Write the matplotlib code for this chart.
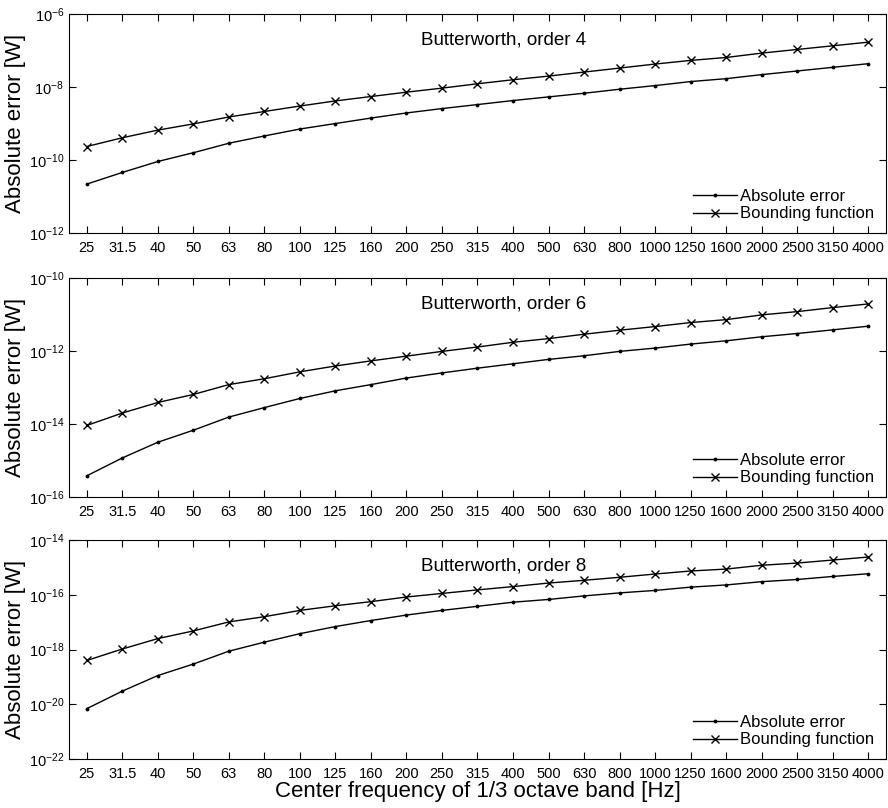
import numpy as np
from matplotlib import pyplot as plt

plt.rcParams["font.family"] = ["Liberation Sans", "DejaVu Sans"]

bands = ["25", "31.5", "40", "50", "63", "80", "100", "125", "160", "200", "250",
         "315", "400", "500", "630", "800", "1000", "1250", "1600", "2000", "2500",
         "3150", "4000"]

# log10 of the values
err_o4 = [-10.66, -10.34, -10.04, -9.80, -9.54, -9.34, -9.15, -9.00, -8.85, -8.71, -8.59,
          -8.48, -8.37, -8.27, -8.17, -8.06, -7.96, -7.85, -7.77, -7.66, -7.56, -7.46, -7.36]
bound_o4 = [-9.63, -9.39, -9.18, -9.01, -8.82, -8.67, -8.52, -8.38, -8.26, -8.14, -8.03,
            -7.91, -7.80, -7.70, -7.59, -7.48, -7.37, -7.27, -7.19, -7.07, -6.97, -6.87, -6.77]
err_o6 = [-15.42, -14.93, -14.50, -14.17, -13.81, -13.55, -13.30, -13.09, -12.92, -12.74, -12.60,
          -12.47, -12.35, -12.23, -12.13, -12.01, -11.92, -11.81, -11.72, -11.61, -11.52, -11.42, -11.32]
bound_o6 = [-14.04, -13.70, -13.41, -13.19, -12.92, -12.76, -12.57, -12.41, -12.27, -12.14, -12.01,
            -11.89, -11.76, -11.66, -11.54, -11.43, -11.33, -11.22, -11.14, -11.01, -10.92, -10.81, -10.71]
err_o8 = [-20.16, -19.52, -18.95, -18.53, -18.06, -17.73, -17.42, -17.16, -16.94, -16.74, -16.57,
          -16.42, -16.27, -16.17, -16.04, -15.93, -15.84, -15.72, -15.64, -15.52, -15.44, -15.33, -15.23]
bound_o8 = [-18.40, -17.98, -17.60, -17.32, -16.99, -16.80, -16.57, -16.40, -16.25, -16.08, -15.95,
            -15.82, -15.70, -15.57, -15.47, -15.36, -15.24, -15.13, -15.06, -14.92, -14.84, -14.73, -14.62]

panels = [
    ("Butterworth, order 4", err_o4, bound_o4, (-12, -6)),
    ("Butterworth, order 6", err_o6, bound_o6, (-16, -10)),
    ("Butterworth, order 8", err_o8, bound_o8, (-22, -14)),
]

fig = plt.figure(figsize=(8.88, 8.08), dpi=100)
bottoms = [0.7116, 0.3849, 0.0606]
x = np.arange(1, len(bands) + 1)

for (title, err, bound, (lo, hi)), b in zip(panels, bottoms):
    ax = fig.add_axes([0.0777, b, 0.920, 0.271])
    ax.semilogy(x, 10.0 ** np.array(err), "k.-", lw=1.0, ms=3.5, label="Absolute error")
    ax.semilogy(x, 10.0 ** np.array(bound), "kx-", lw=1.0, ms=5.5, mew=1.0,
                label="Bounding function")
    ax.set_xlim(0.5, len(bands) + 0.5)
    ax.set_ylim(10.0 ** lo, 10.0 ** hi)
    ax.set_yticks([10.0 ** k for k in range(lo, hi + 1, 2)])
    ax.minorticks_off()
    ax.set_xticks(x)
    ax.set_xticklabels(bands)
    ax.tick_params(direction="in", top=True, right=True, labelsize=10.5, length=5,
                   width=0.8)
    ax.tick_params(axis="x", pad=6)
    ax.set_ylabel("Absolute error [W]", fontsize=16, labelpad=2)
    ax.text(0.532, 0.88, title, transform=ax.transAxes, ha="center", va="center",
            fontsize=13.5)
    ax.legend(loc="lower right", frameon=False, fontsize=12, handlelength=2.6,
              handletextpad=0.2, labelspacing=0.15, borderaxespad=0.3)

ax.set_xlabel("Center frequency of 1/3 octave band [Hz]", fontsize=16, labelpad=0)

fig.savefig("out.png", dpi=100)
